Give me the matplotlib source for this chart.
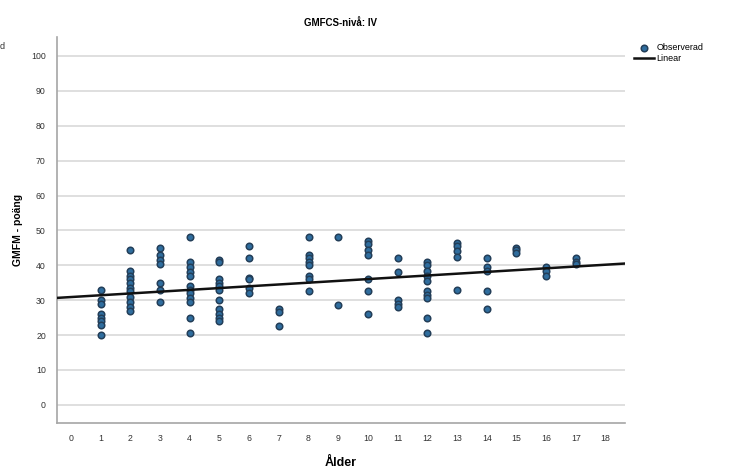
import numpy as np
import matplotlib
matplotlib.use("Agg")
import matplotlib.pyplot as plt

plt.rcParams['font.family'] = ['Liberation Sans', 'DejaVu Sans']

# GMFM-poäng per ålder (avläst)
alder = [1, 2, 3, 4, 5, 6, 7, 8, 9, 10, 11, 12, 13, 14, 15, 16, 17]
poang = [
    [33, 30, 29, 26, 25, 24, 23, 20],
    [44.5, 38.5, 37, 36, 35, 33.5, 32.5, 31, 29.5, 28, 27],
    [45, 43, 41.5, 40.5, 35, 33, 29.5],
    [48, 41, 39.5, 38, 37, 34, 33, 32, 30.5, 29.5, 25, 20.5],
    [41.5, 41, 36, 35, 34, 33, 30, 27.5, 26, 25, 24],
    [45.5, 42, 36.5, 36, 33.5, 32],
    [27.5, 26.5, 22.5],
    [48, 43, 42, 41, 40, 37, 36, 32.5],
    [48, 28.5],
    [47, 46, 44.5, 43, 36, 32.5, 26],
    [42, 38, 30, 29, 28],
    [41, 40, 38.5, 37, 35.5, 32.5, 31.5, 30.5, 25, 20.5],
    [46.5, 45.5, 44, 42.5, 33],
    [42, 39.5, 38.5, 32.5, 27.5],
    [45, 44.5, 43.5],
    [39.5, 38.5, 37],
    [42, 41, 40.5],
]
# linjär anpassning som den syns i bilden
intercept = 30.9
slope = 0.515
xticks = list(range(0, 19))
yticks = list(range(0, 101, 10))

x = []
y = []
for a, vals in zip(alder, poang):
    for v in vals:
        x.append(a)
        y.append(v)

fig = plt.figure(figsize=(7.36, 4.70), dpi=100)
ax = fig.add_axes([0.0774, 0.100, 0.7716, 0.821])

xlim = (-0.47, 18.65)
ax.set_xlim(xlim)
ax.set_ylim(-5.2, 105.4)

for t in yticks:
    ax.axhline(t, color='#d9d9d9', lw=1.2, zorder=0)

ax.scatter(x, y, s=22, c='#2f6d9e', edgecolors='#233e58', linewidths=1.1, zorder=3,
           label='Observerad')
lx = np.array(xlim)
ax.plot(lx, intercept + slope * lx, color='#111111', lw=1.8, zorder=4, label='Linear')

ax.set_xticks(xticks)
ax.set_yticks(yticks)
ax.tick_params(length=0, labelsize=6.3, colors='#333333', pad=8)
for s in ['top', 'right']:
    ax.spines[s].set_visible(False)
for s in ['left', 'bottom']:
    ax.spines[s].set_color('#a6a6a6')
    ax.spines[s].set_linewidth(1.2)

ax.set_title('GMFCS-nivå: IV', fontsize=7, fontweight='bold', pad=8)
ax.set_xlabel('Ålder', fontsize=9, fontweight='bold', labelpad=10)
ax.set_ylabel('GMFM - poäng', fontsize=7.5, fontweight='bold', labelpad=6)

ax.legend(loc='upper left', bbox_to_anchor=(1.005, 1.0), frameon=False, fontsize=6.5,
          handlelength=2.2, handletextpad=0.3, labelspacing=0.15, borderaxespad=0.3)
fig.text(0.0, 0.895, 'd', fontsize=6.5, color='#333333')

fig.savefig('out.png', dpi=100)
